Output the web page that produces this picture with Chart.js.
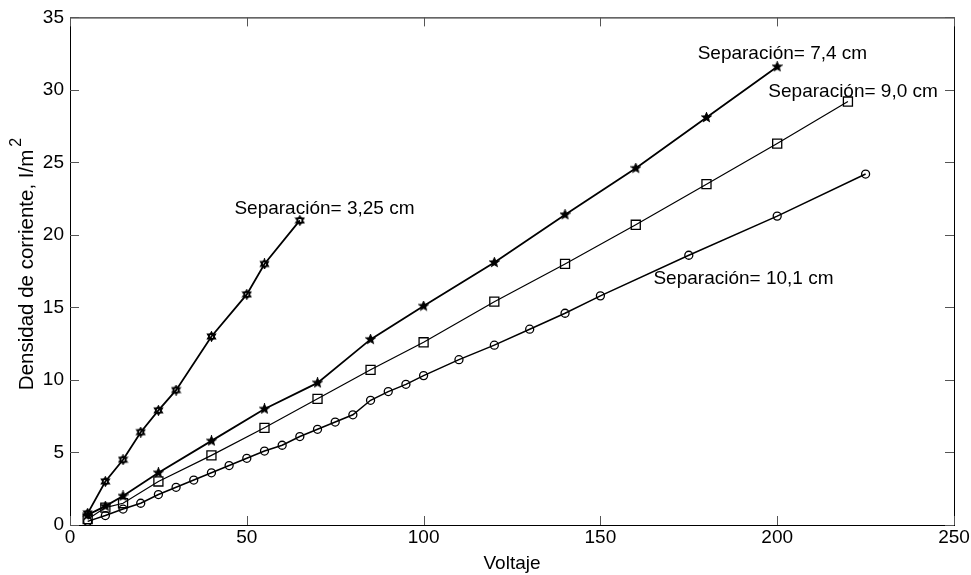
<!DOCTYPE html>
<html>
<head>
<meta charset="utf-8">
<script src="https://cdn.jsdelivr.net/npm/chart.js@4.4.1/dist/chart.umd.min.js"></script>
<style>
  html, body { margin: 0; padding: 0; background: #fff; }
  #chart { display: block; }
</style>
</head>
<body>
<canvas id="chart" width="971" height="575"></canvas>
<script>
// Separación= 3,25 cm
const voltA = [5, 10, 15, 20, 25, 30, 40, 50, 55, 65];
const densA = [0.8, 3.0, 4.5, 6.4, 7.9, 9.3, 13.0, 15.9, 18.0, 21.0];
// Separación= 7,4 cm
const voltB = [5, 10, 15, 25, 40, 55, 70, 85, 100, 120, 140, 160, 180, 200];
const densB = [0.7, 1.3, 2.0, 3.6, 5.8, 8.0, 9.8, 12.8, 15.1, 18.1, 21.4, 24.6, 28.1, 31.6];
// Separación= 9,0 cm
const voltC = [5, 10, 15, 25, 40, 55, 70, 85, 100, 120, 140, 160, 180, 200, 220];
const densC = [0.4, 1.2, 1.5, 3.0, 4.8, 6.7, 8.7, 10.7, 12.6, 15.4, 18.0, 20.7, 23.5, 26.3, 29.2];
// Separación= 10,1 cm
const voltD = [5, 10, 15, 20, 25, 30, 35, 40, 45, 50, 55, 60, 65, 70, 75, 80, 85, 90, 95, 100, 110, 120, 130, 140, 150, 175, 200, 225];
const densD = [0.25, 0.65, 1.1, 1.5, 2.1, 2.6, 3.1, 3.6, 4.1, 4.6, 5.1, 5.5, 6.1, 6.6, 7.1, 7.6, 8.6, 9.2, 9.7, 10.3, 11.4, 12.4, 13.5, 14.6, 15.8, 18.6, 21.3, 24.2];

// text notes placed in data units
const noteText = ['Separación= 3,25 cm', 'Separación= 7,4 cm', 'Separación= 9,0 cm', 'Separación= 10,1 cm'];
const noteX = [46.5, 177.5, 197.5, 165];
const noteY = [21.8, 32.5, 29.9, 17.0];

const xTicks = [0, 50, 100, 150, 200, 250];
const yTicks = [0, 5, 10, 15, 20, 25, 30, 35];

const FONT = '"Liberation Sans", Arial, sans-serif';

function pts(xs, ys) {
  return xs.map((v, i) => ({ x: v, y: ys[i] }));
}

// little marker images
function starMarker(n, size, filled) {
  const c = document.createElement('canvas');
  c.width = size; c.height = size;
  const g = c.getContext('2d');
  const r = size / 2 - 1, ri = r * 0.45;
  g.translate(size / 2, size / 2);
  g.beginPath();
  for (let i = 0; i < n * 2; i++) {
    const a = -Math.PI / 2 + i * Math.PI / n;
    const rr = i % 2 ? ri : r;
    g.lineTo(rr * Math.cos(a), rr * Math.sin(a));
  }
  g.closePath();
  g.lineWidth = 1.3;
  g.strokeStyle = '#000';
  if (filled) { g.fillStyle = '#000'; g.fill(); }
  g.stroke();
  return c;
}

function hexMarker(size) {
  const c = document.createElement('canvas');
  c.width = size; c.height = size;
  const g = c.getContext('2d');
  const r = size / 2 - 1;
  g.translate(size / 2, size / 2);
  g.strokeStyle = '#000';
  g.lineWidth = 1.4;
  for (let t = 0; t < 2; t++) {
    g.beginPath();
    for (let i = 0; i < 3; i++) {
      const a = (t ? Math.PI / 2 : -Math.PI / 2) + i * 2 * Math.PI / 3;
      g.lineTo(r * Math.cos(a), r * Math.sin(a));
    }
    g.closePath();
    g.stroke();
  }
  g.beginPath();
  g.arc(0, 0, r * 0.6, 0, Math.PI * 2);
  g.stroke();
  return c;
}

const hexImg = hexMarker(11);
const pentImg = starMarker(5, 11, true);

const boxPlugin = {
  id: 'box',
  afterDraw(chart) {
    const { ctx, chartArea, scales } = chart;
    const { left, right, top, bottom } = chartArea;
    ctx.save();
    ctx.strokeStyle = '#000';
    ctx.lineWidth = 1;
    ctx.strokeRect(left + 0.5, top + 0.5, right - left, bottom - top);
    ctx.strokeStyle = '#555';
    ctx.beginPath();
    xTicks.forEach(v => {
      const px = Math.round(scales.x.getPixelForValue(v)) + 0.5;
      ctx.moveTo(px, bottom); ctx.lineTo(px, bottom - 9);
      ctx.moveTo(px, top); ctx.lineTo(px, top + 9);
    });
    yTicks.forEach(v => {
      const py = Math.round(scales.y.getPixelForValue(v)) + 0.5;
      ctx.moveTo(left, py); ctx.lineTo(left + 9, py);
      ctx.moveTo(right, py); ctx.lineTo(right - 9, py);
    });
    ctx.stroke();

    // notes
    ctx.fillStyle = '#000';
    ctx.font = '19px ' + FONT;
    ctx.textAlign = 'left';
    ctx.textBaseline = 'middle';
    noteText.forEach((t, i) => {
      ctx.fillText(t, scales.x.getPixelForValue(noteX[i]), scales.y.getPixelForValue(noteY[i]));
    });

    // y title with superscript
    const main = 'Densidad de corriente, I/m';
    ctx.font = '20.5px ' + FONT;
    const wMain = ctx.measureText(main).width;
    ctx.font = '16px ' + FONT;
    const wSup = ctx.measureText('2').width;
    const total = wMain + wSup + 3;
    ctx.translate(27, 264);
    ctx.rotate(-Math.PI / 2);
    ctx.textAlign = 'left';
    ctx.textBaseline = 'middle';
    ctx.font = '20.5px ' + FONT;
    ctx.fillText(main, -total / 2, 0);
    ctx.font = '16px ' + FONT;
    ctx.fillText('2', -total / 2 + wMain + 3, -10);
    ctx.restore();
  }
};

const lineDs = (label, data, style, radius, width) => ({
  label, data,
  borderColor: '#000',
  backgroundColor: 'rgba(0,0,0,0)',
  borderWidth: width,
  pointStyle: style,
  pointRadius: radius,
  pointBorderColor: '#000',
  pointBorderWidth: 1.3,
  pointBackgroundColor: 'rgba(0,0,0,0)',
  tension: 0,
  fill: false
});

new Chart(document.getElementById('chart'), {
  type: 'line',
  data: {
    datasets: [
      lineDs('3,25 cm', pts(voltA, densA), hexImg, 5, 1.8),
      lineDs('7,4 cm', pts(voltB, densB), pentImg, 5, 1.8),
      lineDs('9,0 cm', pts(voltC, densC), 'rect', 6.4, 1.2),
      lineDs('10,1 cm', pts(voltD, densD), 'circle', 4, 1.5)
    ]
  },
  options: {
    responsive: false,
    animation: false,
    devicePixelRatio: 1,
    layout: { padding: { top: 15, right: 17, left: 0, bottom: 0 } },
    plugins: { legend: { display: false }, tooltip: { enabled: false } },
    scales: {
      x: {
        type: 'linear',
        min: 0, max: 250,
        afterBuildTicks: s => { s.ticks = xTicks.map(v => ({ value: v })); },
        afterFit: s => { s.height = 50; },
        grid: { display: false, drawTicks: false },
        border: { display: false },
        ticks: { color: '#000', padding: 1, font: { family: FONT, size: 19 } },
        title: {
          display: true, text: 'Voltaje', color: '#000',
          font: { family: FONT, size: 19 }, padding: { top: 0, bottom: 0 }
        }
      },
      y: {
        min: 0, max: 35,
        afterBuildTicks: s => { s.ticks = yTicks.map(v => ({ value: v })); },
        afterFit: s => { s.width = 70; },
        grid: { display: false, drawTicks: false },
        border: { display: false },
        ticks: { color: '#000', padding: 6, font: { family: FONT, size: 19 } }
      }
    }
  },
  plugins: [boxPlugin]
});
</script>
</body>
</html>
